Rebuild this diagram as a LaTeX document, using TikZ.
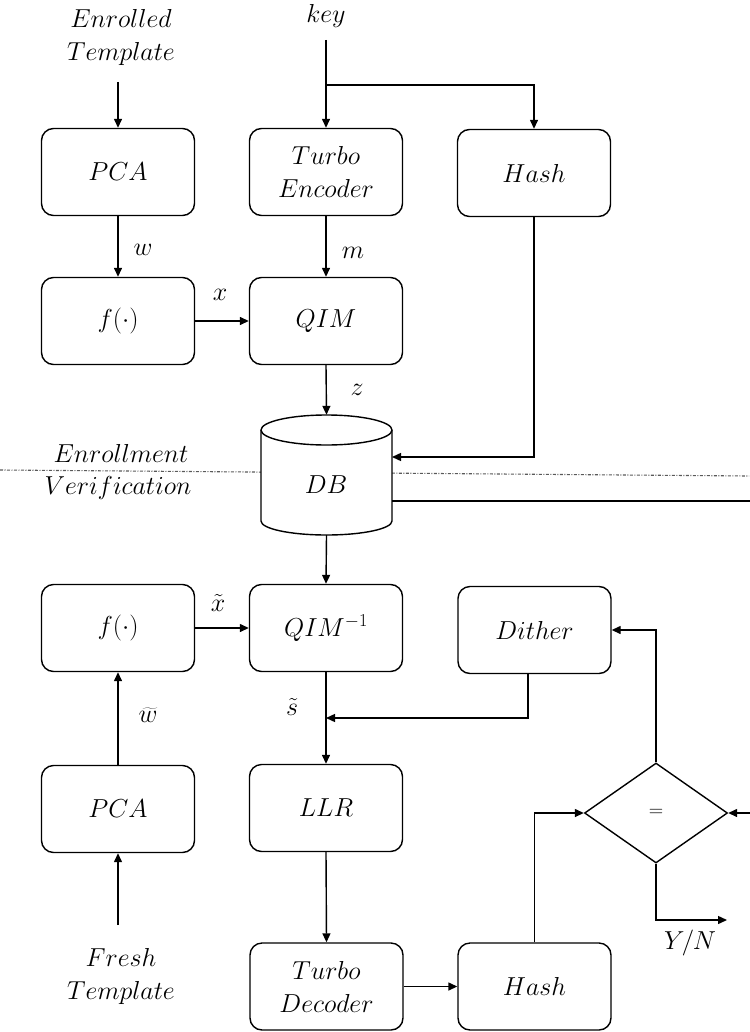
\RequirePackage{fix-cm}
\documentclass[tikz,border=0pt]{standalone}
\usetikzlibrary{arrows.meta,shapes.geometric}
\begin{document}
\begin{tikzpicture}[x=1pt,y=-1pt,
  every node/.style={font=\fontsize{26}{33}\selectfont},
  block/.style={draw, line width=1.4pt, rounded corners=12pt, minimum width=153pt,
    minimum height=87pt, align=center, inner sep=0pt},
  wire/.style={line width=1.4pt},
  conn/.style={wire, -{Triangle[length=9pt,width=8pt]}},
  lbl/.style={inner sep=0pt},
  plain/.style={align=center, inner sep=0pt}
]
\useasboundingbox (0,0) rectangle (749,1032);

% ---------------- enrollment ----------------
\node[plain] (enr) at (121,38) {$Enrolled$\\$Template$};
\node[plain] (key) at (326,16) {$key$};
\coordinate (enrin) at (118,82);
\coordinate (keyout) at (326,40);
\coordinate (split) at (326,85);

\node[block] (pca1) at (118,172) {$PCA$};
\node[block] (enc)  at (326,172) {$Turbo$\\$Encoder$};
\node[block] (hash1) at (534,173) {$Hash$};
\node[block] (f1)   at (118,321) {$f(\cdot)$};
\node[block] (qim)  at (326,321) {$QIM$};

\draw[conn] (enrin) -- (pca1.north);
\draw[wire] (keyout) -- (split);
\draw[conn] (split) -- (enc.north);
\draw[conn] (split) -| (hash1.north);
\draw[conn] (pca1.south) -- (f1.north);
\draw[conn] (enc.south) -- (qim.north);
\draw[conn] (f1.east) -- (qim.west);

\node[lbl] (lw) at (143,250) {$w$};
\node[lbl] (lm) at (353,253) {$m$};
\node[lbl] (lx) at (220,295) {$x$};
\node[lbl] (lz) at (357,390) {$z$};

% boundary between the two phases
\draw[black!65, line width=1.1pt, dash pattern=on 3pt off 1.5pt on 1pt off 1.5pt]
  (0,470) -- (749,476);
\node[plain] (lenr) at (121,453) {$Enrollment$};
\node[plain] (lver) at (118,488) {$Verification$};

% database cylinder
\draw[wire, fill=white] (261,430) -- (261,521)
  arc[start angle=180, end angle=360, x radius=65.5pt, y radius=14pt]
  -- (392,430)
  arc[start angle=0, end angle=180, x radius=65.5pt, y radius=15pt] -- cycle;
\draw[wire] (261,430) arc[start angle=180, end angle=360, x radius=65.5pt, y radius=15pt];
\node[inner sep=0pt, minimum width=131pt, minimum height=120pt] (db) at (326.5,475) {};
\node[plain] (dbl) at (326,485) {$DB$};

\coordinate (hashin) at (392,457);
\coordinate (dbr) at (392,501);
\coordinate (rail) at (754,501);
\draw[conn] (qim.south) -- (db.north);
\draw[conn] (hash1.south) |- (hashin);

% ---------------- verification ----------------
\node[block] (f2)     at (118,628) {$f(\cdot)$};
\node[block] (qiminv) at (326,628) {$QIM^{-1}$};
\node[block] (dither) at (534.5,630) {$Dither$};
\node[block] (pca2)   at (118,809) {$PCA$};
\node[block] (llr)    at (326,808) {$LLR$};
\node[block] (dec)    at (326.5,986.5) {$Turbo$\\$Decoder$};
\node[block] (hash2)  at (534.5,986.5) {$Hash$};
\node[draw, diamond, line width=1.4pt, inner sep=0pt, aspect=1.43,
  minimum width=143pt, minimum height=100pt,
  font=\fontsize{20}{24}\selectfont] (eq) at (656,813) {$=$};
\node[plain] (fresh) at (121,976) {$Fresh$\\$Template$};

\coordinate (frin) at (118,925);
\coordinate (dithout) at (528,674);
\coordinate (join) at (326,718);
\coordinate (yn) at (727,920);

\draw[conn] (db.south) -- (qiminv.north);
\draw[conn] (f2.east) -- (qiminv.west);
\draw[conn] (pca2.north) -- (f2.south);
\draw[conn] (frin) -- (pca2.south);
\draw[conn] (qiminv.south) -- (llr.north);
\draw[conn] (dithout) |- (join);
\draw[conn] (llr.south) -- (dec.north);
\draw[conn] (dec.east) -- (hash2.west);
\draw[conn] (hash2.north) |- (eq.west);
\draw[conn] (eq.north) |- (dither.east);
\draw[conn] (eq.south) |- (yn);
\draw[conn] (dbr) -- (rail) |- (eq.east);

\node[lbl] (lxt) at (218,603) {$\tilde{x}$};
\node[lbl] (lwt) at (148,715) {$\widetilde{w}$};
\node[lbl] (lst) at (292,707) {$\tilde{s}$};
\node[lbl] (lyn) at (690,943) {$Y/N$};
\end{tikzpicture}
\end{document}
